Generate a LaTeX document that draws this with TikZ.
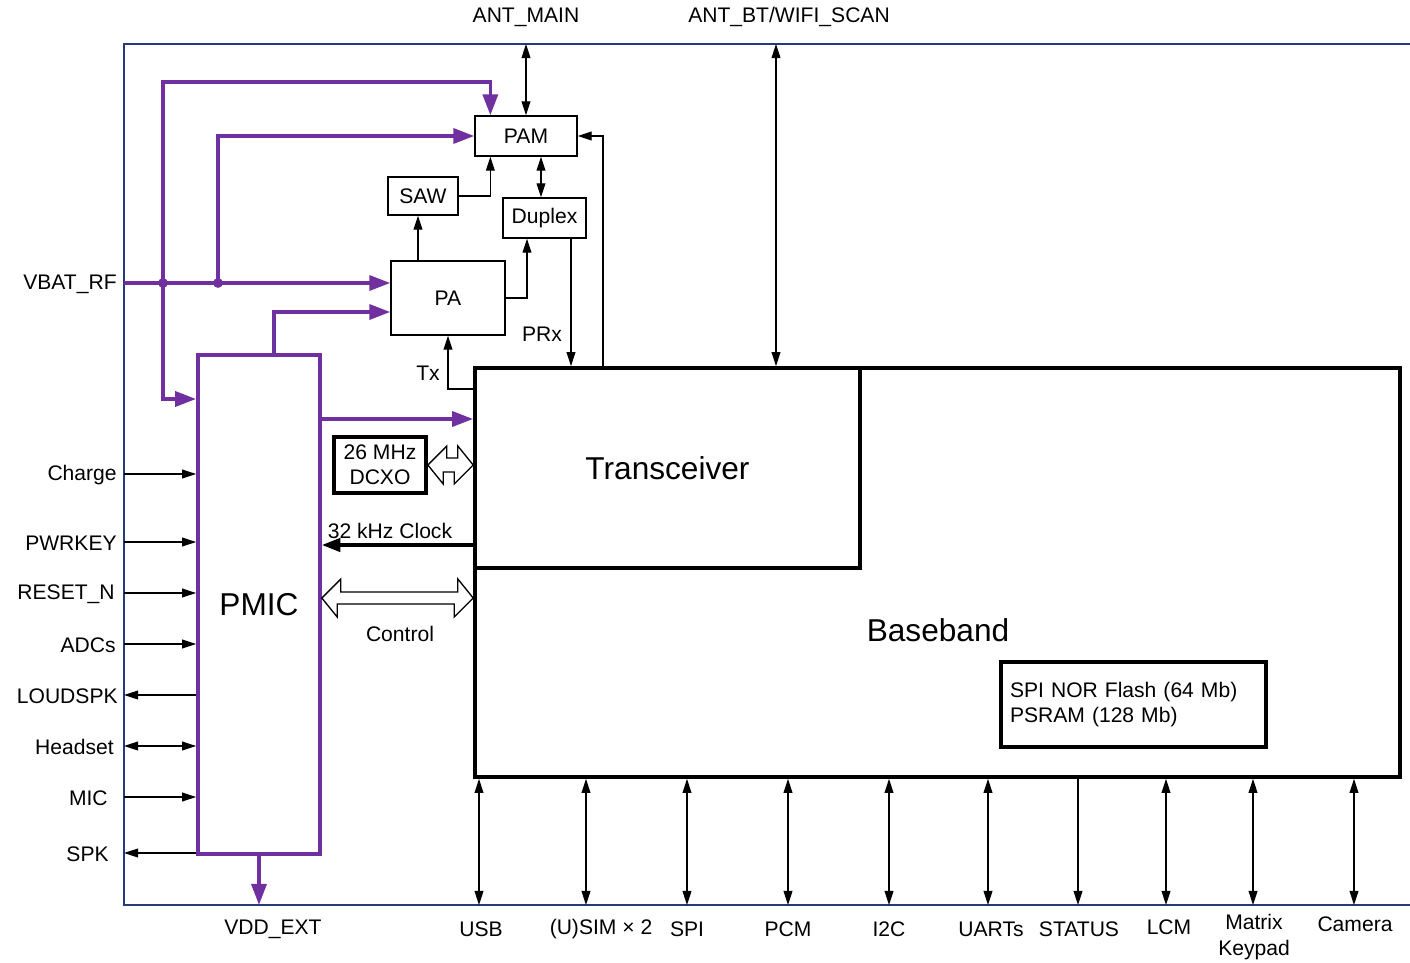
\documentclass[tikz,border=0pt]{standalone}
\usepackage{fontspec}
\setmainfont{Liberation Sans}
\usetikzlibrary{arrows.meta}

\definecolor{vio}{RGB}{112,48,160}
\definecolor{framec}{RGB}{36,60,120}

\begin{document}
\begin{tikzpicture}[x=0.02cm, y=-0.02cm, font=\fontsize{12}{14.5}\selectfont,
    box/.style={draw, line width=0.75pt, inner sep=0pt},
    bigbox/.style={draw, line width=2.1pt, inner sep=0pt},
    pmicbox/.style={draw=vio, line width=2.1pt, inner sep=0pt},
    big/.style={font=\fontsize{18}{21}\selectfont},
    sig/.style={line width=0.75pt, >={Triangle[length=8pt,width=5pt]}},
    pwr/.style={draw=vio, line width=2.1pt, -{Triangle[length=12pt,width=8.5pt]}},
    clk/.style={line width=2.1pt, -{Triangle[length=10.5pt,width=7.5pt]}},
    hollow/.style={draw, fill=white, line width=0.75pt, line join=miter}]

    \useasboundingbox (0,0) rectangle (1410,963);

    % 1. Outer frame, open on the right
    \draw[framec, line width=0.8pt] (1410,44) -- (124,44) -- (124,905) -- (1410,905);

    % 2. Blocks
    \node[bigbox, minimum width=18.5cm, minimum height=8.18cm] (bb) at (937.5,572.5) {};
    \node[big] (bblbl) at (938,630) {Baseband};
    \node[bigbox, big, minimum width=7.7cm, minimum height=4cm] (trx) at (667.5,468) {Transceiver};
    \node[pmicbox, big, minimum width=2.44cm, minimum height=9.98cm] (pmic) at (259,604.5) {PMIC};
    \node[bigbox, minimum width=5.3cm, minimum height=1.7cm, text width=4.94cm,
          inner xsep=0.18cm, align=left] (flash) at (1133.5,704.5) {SPI NOR Flash (64 Mb)\\PSRAM (128 Mb)};
    \node[bigbox, minimum width=1.84cm, minimum height=1.12cm, align=center] (dcxo) at (380,465) {26 MHz\\DCXO};

    \node[box, minimum width=2.04cm, minimum height=0.8cm] (pam) at (526,136) {PAM};
    \node[box, minimum width=1.4cm, minimum height=0.76cm] (saw) at (423,196) {SAW};
    \node[box, minimum width=1.66cm, minimum height=0.8cm] (duplex) at (544.5,218) {Duplex};
    \node[box, minimum width=2.28cm, minimum height=1.48cm] (pa) at (448,298) {PA};

    % 3. Outside labels
    \node (antmainlbl) at (526,17) {ANT\_MAIN};
    \node (antbtlbl) at (789,17) {ANT\_BT/WIFI\_SCAN};
    \node[anchor=east, inner sep=0pt] (vbatlbl) at (117,284) {VBAT\_RF};
    \node (vddlbl) at (273,929) {VDD\_EXT};
    \node (prxlbl) at (542,334) {PRx};
    \node (txlbl) at (428,373) {Tx};
    \node (clklbl) at (390,531) {32 kHz Clock};
    \node (ctrllbl) at (400,634) {Control};

    \coordinate (vbatin) at (124,283);
    \coordinate (j1) at (163,283);
    \coordinate (j2) at (218,283);
    \coordinate (antmain) at (526,44);
    \coordinate (antbt) at (776,44);
    \coordinate (vddext) at (259,905);

    % 4. Supply lines
    \draw[pwr] (vbatin) -- (vbatin -| pa.west);
    \draw[pwr] (j1) -- (163,82) -| ([xshift=0.32cm]pam.north west);
    \draw[pwr] (j2) |- (pam.west);
    \draw[pwr] (j1) |- (pmic.west |- 0,399);
    \draw[pwr] (pmic.north -| 274,0) |- (pa.west |- 0,312);
    \draw[pwr] (pmic.east |- 0,419) -- (trx.west |- 0,419);
    \draw[pwr] (pmic.south) -- (vddext);
    \fill[vio] (j1) circle (2.8pt) (j2) circle (2.8pt);

    % 5. RF signals
    \draw[sig, <->] (antmain) -- (pam.north);
    \draw[sig, <->] (antbt) -- (antbt |- trx.north);
    \draw[sig, ->] ([xshift=-0.1cm]saw.south |- pa.north) -- ([xshift=-0.1cm]saw.south);
    \draw[sig, ->] (saw.east) -| ([xshift=0.32cm]pam.south west);
    \draw[sig, <->] ([xshift=-0.07cm]duplex.north |- pam.south) -- ([xshift=-0.07cm]duplex.north);
    \draw[sig, ->] (pa.east) -| ([xshift=-0.35cm]duplex.south);
    \draw[sig, ->] ([xshift=0.53cm]duplex.south) -- ([xshift=0.53cm]duplex.south |- trx.north);
    \draw[sig, ->] (trx.north -| 603,0) |- (pam.east);
    \draw[sig, ->] (trx.west |- 0,389) -| (pa.south);

    % 6. Clock and control
    \draw[clk] (trx.west |- 0,545) -- (pmic.east |- 0,545);
    \draw[hollow] (dcxo.east) -- ++(19,-19) -- ++(0,12) -- ++(11,0) -- ++(0,-12)
        -- (trx.west |- dcxo.east) -- ++(-19,19) -- ++(0,-12) -- ++(-11,0) -- ++(0,12) -- cycle;
    \draw[hollow] (pmic.east |- 0,598) -- ++(19,-19) -- ++(0,13) -- ++(117,0) -- ++(0,-13)
        -- (trx.west |- 0,598) -- ++(-19,19) -- ++(0,-13) -- ++(-117,0) -- ++(0,13) -- cycle;

    % 7. PMIC pins on the left
    \foreach \lbl/\lx/\yy/\tip in {Charge/117/474/->, PWRKEY/117/542/->, RESET\_N/115/593/->,
        ADCs/116/644/->, LOUDSPK/118/695/<-, Headset/114/746/<->, MIC/108/797/->, SPK/109/853/<-} {
        \node[anchor=east, inner sep=0pt] (lbl-\yy) at (\lx,\yy+1) {\lbl};
        \coordinate (pin-\yy) at (124,\yy);
        \draw[sig, \tip] (pin-\yy) -- (pin-\yy -| pmic.west);
    }

    % 8. Baseband interfaces at the bottom
    \foreach \xx/\tip in {479/<->, 586/<->, 687/<->, 788/<->, 889/<->, 988/<->,
        1078/->, 1166/<->, 1253/<->, 1354/<->} {
        \coordinate (pout-\xx) at (\xx,905);
        \draw[sig, \tip] (pout-\xx |- bb.south) -- (pout-\xx);
    }
    \foreach \lx/\ly/\lbl in {481/929/USB, 601/929/(U)SIM × 2, 687/929/SPI, 788/929/PCM,
        889/929/I2C, 991/929/UARTs, 1079/929/STATUS, 1169/927/LCM,
        1254/937/Matrix\\Keypad, 1355/924/Camera} {
        \node[align=center] (blbl-\lx) at (\lx,\ly) {\lbl};
    }

\end{tikzpicture}
\end{document}
